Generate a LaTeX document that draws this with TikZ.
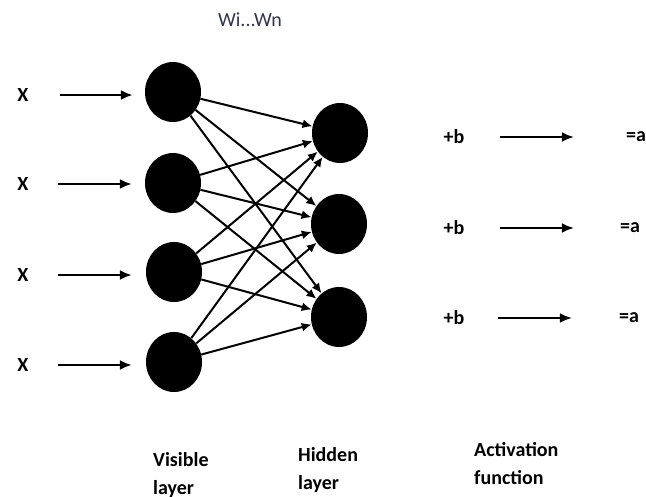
\documentclass[tikz,border=0pt]{standalone}
\usepackage{fontspec}
\setmainfont{Carlito}
\usetikzlibrary{shapes.geometric,arrows.meta}
\definecolor{wtext}{RGB}{48,52,72}

\begin{document}
\begin{tikzpicture}[x=1pt,y=-1pt,
  neuron/.style={ellipse,fill=black,inner sep=0pt,minimum width=56pt,minimum height=60pt},
  lbl/.style={inner sep=0pt,font=\fontsize{20}{28}\selectfont\bfseries},
  io/.style={line width=2.2pt,-{Latex[length=12pt,width=10pt]}},
  wt/.style={line width=2pt,-{Latex[length=10pt,width=9pt]}}]
\useasboundingbox (0,0) rectangle (646,497);

\node [inner sep=0pt,font=\fontsize{20}{24}\selectfont,text=wtext] (weights) at (250,20) {Wi...Wn};

\node [neuron] (v1) at (173,92) {};
\node [neuron] (v2) at (173,183) {};
\node [neuron] (v3) at (174,272) {};
\node [neuron] (v4) at (174,362) {};

\node [neuron] (h1) at (340,133) {};
\node [neuron] (h2) at (339,224) {};
\node [neuron] (h3) at (339,317) {};

\node [lbl] (x1) at (23,95) {X};
\node [lbl] (x2) at (23,184) {X};
\node [lbl] (x3) at (23,275) {X};
\node [lbl] (x4) at (23,365) {X};

\node [lbl] (b1) at (454,137) {+b};
\node [lbl] (b2) at (454,228) {+b};
\node [lbl] (b3) at (454,318) {+b};

\node [lbl] (a1) at (636,137) {=a};
\node [lbl] (a2) at (630,228) {=a};
\node [lbl] (a3) at (629,318) {=a};

\node [lbl, anchor=north west, align=left] (visible) at (153,452) {Visible\\layer};
\node [lbl, anchor=north west, align=left] (hidden) at (298,447) {Hidden\\layer};
\node [lbl, anchor=north west, align=left] (activation) at (474,442) {Activation\\function};

\draw[io, shorten <=31pt, shorten >=12pt] (x1) -- (x1 -| v1.west);
\draw[io, shorten <=29pt, shorten >=13pt] (x2) -- (x2 -| v2.west);
\draw[io, shorten <=29pt, shorten >=14pt] (x3) -- (x3 -| v3.west);
\draw[io, shorten <=29pt, shorten >=14pt] (x4) -- (x4 -| v4.west);

\draw[wt] (v1) -- (h1);
\draw[wt] (v1) -- (h2);
\draw[wt] (v1) -- (h3);
\draw[wt] (v2) -- (h1);
\draw[wt] (v2) -- (h2);
\draw[wt] (v2) -- (h3);
\draw[wt] (v3) -- (h1);
\draw[wt] (v3) -- (h2);
\draw[wt] (v3) -- (h3);
\draw[wt] (v4) -- (h1);
\draw[wt] (v4) -- (h2);
\draw[wt] (v4) -- (h3);

\draw[io, shorten <=35pt, shorten >=52pt] (b1) -- (b1 -| a1.west);
\draw[io, shorten <=35pt, shorten >=46pt] (b2) -- (b2 -| a2.west);
\draw[io, shorten <=33pt, shorten >=47pt] (b3) -- (b3 -| a3.west);
\end{tikzpicture}
\end{document}
